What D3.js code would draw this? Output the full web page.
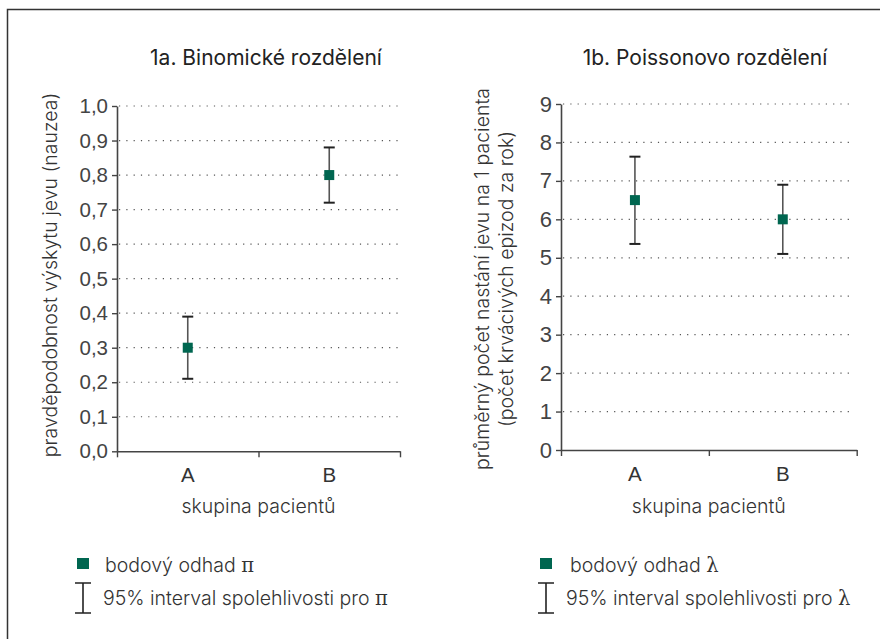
<!DOCTYPE html>
<html>
<head>
<meta charset="utf-8">
<script src="https://cdn.jsdelivr.net/npm/d3@7"></script>
<style>
  html, body { margin: 0; padding: 0; background: #fff; }
  svg { display: block; font-family: Inter, Roboto, "Liberation Sans", sans-serif; font-weight: 300; }
</style>
</head>
<body>
<div id="chart"></div>
<script>
// data
const groups = ["A", "B"];

const binomEst = [0.30, 0.80];
const binomLow = [0.21, 0.72];
const binomHigh = [0.39, 0.88];
const binomTicks = [0, 0.1, 0.2, 0.3, 0.4, 0.5, 0.6, 0.7, 0.8, 0.9, 1.0];

const poisEst = [6.5, 6.0];
const poisLow = [5.36, 5.10];
const poisHigh = [7.63, 6.90];
const poisTicks = [0, 1, 2, 3, 4, 5, 6, 7, 8, 9];

const w = 880;
const h = 639;
const green = "#006650";
const fs = 19.5; // body text size

const svg = d3.select("#chart")
  .append("svg")
  .attr("width", w)
  .attr("height", h);

// outer frame (only top and left edges are in view)
svg.append("path")
  .attr("d", `M7.5,${h + 2}V9.5H${w + 2}`)
  .attr("fill", "none")
  .attr("stroke", "#333")
  .attr("stroke-width", 1.5);

const czDecimal = d3.formatLocale({decimal: ",", thousands: " ", grouping: [3], currency: ["", " Kč"]});

function panel(o) {
  const g = svg.append("g");
  const y = d3.scaleLinear().domain([0, d3.max(o.ticks)]).range([o.bottom, o.top]);
  const x = d3.scaleBand().domain(groups).range([o.left, o.right]).padding(0);
  const xEdge = d3.scaleLinear().domain([0, groups.length]).range([o.left, o.right]);

  // dotted grid
  g.append("g")
    .selectAll("line")
    .data(o.ticks.filter((d) => d > 0))
    .join("line")
    .attr("x1", o.left + 2)
    .attr("x2", o.gridEnd)
    .attr("y1", (d) => y(d))
    .attr("y2", (d) => y(d))
    .attr("stroke", "#555")
    .attr("stroke-width", 1.2)
    .attr("stroke-dasharray", "1.2,6.1");

  // y axis
  const yAxis = g.append("g")
    .attr("transform", `translate(${o.left},0)`)
    .call(d3.axisLeft(y).tickValues(o.ticks).tickFormat(o.fmt)
      .tickSize(5).tickPadding(4).tickSizeOuter(0));
  yAxis.select("path.domain").attr("stroke", "#444").attr("stroke-width", 1.6);
  yAxis.selectAll(".tick line").attr("stroke", "#444").attr("stroke-width", 1.4);
  yAxis.selectAll("text")
    .attr("fill", "#444")
    .style("font-family", "inherit")
    .style("font-size", o.tickSize + "px");

  // x axis: ticks sit on the band edges, labels on the band centres
  const xAxis = g.append("g")
    .attr("transform", `translate(0,${o.bottom})`)
    .call(d3.axisBottom(xEdge).tickValues(d3.range(groups.length + 1))
      .tickFormat("").tickSize(6).tickSizeOuter(0));
  xAxis.select("path.domain").attr("stroke", "#444").attr("stroke-width", 1.6);
  xAxis.selectAll(".tick line").attr("stroke", "#444").attr("stroke-width", 1.4);

  const xLabels = g.append("g")
    .attr("transform", `translate(0,${o.bottom})`)
    .call(d3.axisBottom(x).tickSize(0).tickPadding(16));
  xLabels.select("path.domain").remove();
  xLabels.selectAll("text")
    .attr("fill", "#333")
    .style("font-family", "inherit")
    .style("font-size", "20.5px");

  // titles
  g.append("text")
    .attr("x", o.titleX)
    .attr("y", 65)
    .attr("text-anchor", "middle")
    .attr("fill", "#222")
    .style("font-size", "21px")
    .style("font-weight", 400)
    .text(o.title);

  g.append("text")
    .attr("x", (o.left + o.right) / 2)
    .attr("y", 513)
    .attr("text-anchor", "middle")
    .attr("fill", "#333")
    .style("font-size", fs + "px")
    .text("skupina pacientů");

  o.yLabel.forEach(function (line, i) {
    g.append("text")
      .attr("transform", `translate(${o.yLabelX + i * 24},${o.yLabelY}) rotate(-90)`)
      .attr("text-anchor", "middle")
      .attr("fill", "#333")
      .style("font-size", fs + "px")
      .text(line);
  });

  // error bars
  const bars = g.append("g")
    .selectAll("g")
    .data(groups.map((k, i) => ({k, est: o.est[i], lo: o.lo[i], hi: o.hi[i]})))
    .join("g")
    .attr("transform", (d) => `translate(${x(d.k) + x.bandwidth() / 2},0)`);
  bars.append("line")
    .attr("y1", (d) => y(d.lo))
    .attr("y2", (d) => y(d.hi))
    .attr("stroke", "#555")
    .attr("stroke-width", 1.6);
  bars.selectAll("line.cap")
    .data((d) => [d.lo, d.hi])
    .join("line")
    .attr("class", "cap")
    .attr("x1", -5.5)
    .attr("x2", 5.5)
    .attr("y1", (d) => y(d))
    .attr("y2", (d) => y(d))
    .attr("stroke", "#222")
    .attr("stroke-width", 2);
  bars.append("rect")
    .attr("x", -5)
    .attr("y", (d) => y(d.est) - 5)
    .attr("width", 10)
    .attr("height", 10)
    .attr("fill", green);

  // legend
  const lg = g.append("g").attr("transform", `translate(${o.legX},0)`);
  lg.append("rect")
    .attr("x", -6)
    .attr("y", 558)
    .attr("width", 12)
    .attr("height", 11)
    .attr("fill", green);
  lg.append("path")
    .attr("d", "M-8,583H8M0,583V613M-8,613H8")
    .attr("fill", "none")
    .attr("stroke", "#222")
    .attr("stroke-width", 1.6);
  const t1 = lg.append("text")
    .attr("x", o.legText1)
    .attr("y", 572)
    .attr("fill", "#333")
    .style("font-size", fs + "px")
    .text("bodový odhad ");
  t1.append("tspan").style("font-family", "'DejaVu Serif', serif").text(o.sym);
  const t2 = lg.append("text")
    .attr("x", o.legText2)
    .attr("y", 605)
    .attr("fill", "#333")
    .style("font-size", fs + "px")
    .text("95% interval spolehlivosti pro ");
  t2.append("tspan").style("font-family", "'DejaVu Serif', serif").text(o.sym);
}

panel({
  title: "1a. Binomické rozdělení",
  titleX: 266,
  left: 117, right: 400, gridEnd: 403,
  top: 106, bottom: 451.3,
  ticks: binomTicks,
  fmt: czDecimal.format(".1f"),
  tickSize: 20.5,
  est: binomEst, lo: binomLow, hi: binomHigh,
  yLabel: ["pravděpodobnost výskytu jevu (nauzea)"],
  yLabelX: 57, yLabelY: 275,
  legX: 83, legText1: 22, legText2: 20,
  sym: "π"
});

panel({
  title: "1b. Poissonovo rozdělení",
  titleX: 705,
  left: 561, right: 856.7, gridEnd: 855,
  top: 104, bottom: 450,
  ticks: poisTicks,
  fmt: d3.format("d"),
  tickSize: 22,
  est: poisEst, lo: poisLow, hi: poisHigh,
  yLabel: ["průměrný počet nastání jevu na 1 pacienta", "(počet krvácivých epizod za rok)"],
  yLabelX: 489, yLabelY: 279,
  legX: 546, legText1: 24, legText2: 20,
  sym: "λ"
});
</script>
</body>
</html>
